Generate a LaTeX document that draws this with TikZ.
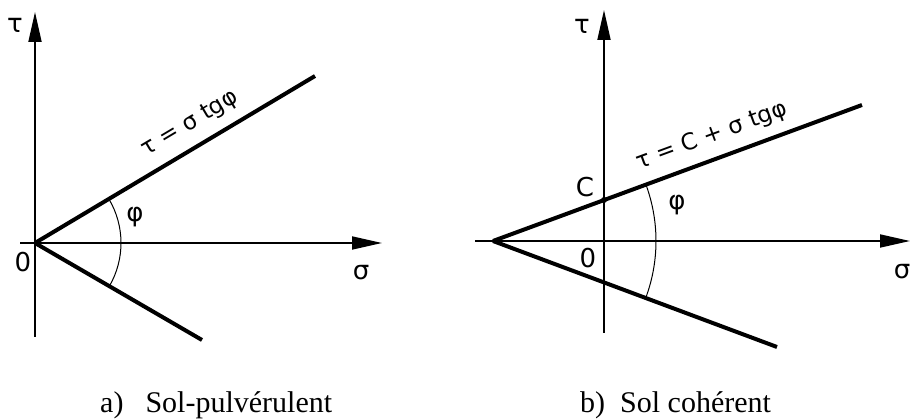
\documentclass[tikz,border=0pt]{standalone}
\usepackage{fontspec}
\setmainfont{Liberation Serif}
\newfontfamily\lblfont{DejaVu Sans}
\usetikzlibrary{arrows.meta}
\begin{document}
\begin{tikzpicture}[x=1pt,y=-1pt,
  axis/.style={line width=1.8pt,-{Triangle[length=30pt,width=13pt]}},
  envelope/.style={line width=4pt},
  arcline/.style={line width=1pt},
  lbl/.style={font=\lblfont\fontsize{26}{26}\selectfont,inner sep=0pt},
  eqlbl/.style={font=\lblfont\fontsize{23}{23}\selectfont,inner sep=0pt},
  captext/.style={font=\fontsize{30}{36}\selectfont,inner sep=0pt,anchor=base west}]
\useasboundingbox (0,0) rectangle (911,419);
% ---- panel a
\coordinate (O1) at (35,243);
\coordinate (T1) at (35,12);
\coordinate (B1) at (35,337);
\coordinate (L1) at (20,243);
\coordinate (S1) at (382,243);
\coordinate (U1) at (315,76);
\coordinate (D1) at (202,340);
\draw[axis] (B1) -- (T1);
\draw[axis] (L1) -- (S1);
\draw[envelope] (O1) -- (U1);
\draw[envelope] (O1) -- (D1);
\draw[arcline] ([shift={(-30.8:86)}]O1) arc[start angle=-30.8,end angle=30.2,radius=86];
\node[lbl] (tau1) at (15,25) {τ};
\node[lbl] (zero1) at (23,262) {0};
\node[lbl] (sig1) at (361,273) {σ};
\node[lbl] (phi1) at (135,217) {φ};
\node[eqlbl,rotate=30.8] (eq1) at (190,124) {τ = σ tgφ};
% ---- panel b
\coordinate (A2) at (493,241);
\coordinate (T2) at (604,10);
\coordinate (B2) at (604,333);
\coordinate (L2) at (475,241);
\coordinate (S2) at (910,241);
\coordinate (U2) at (862,105);
\coordinate (D2) at (777,347);
\coordinate (C2) at (604,200);
\draw[axis] (B2) -- (T2);
\draw[axis] (L2) -- (S2);
\draw[envelope] (A2) -- (U2);
\draw[envelope] (A2) -- (D2);
\fill (C2) circle[radius=3];
\draw[arcline] ([shift={(-20.2:163)}]A2) arc[start angle=-20.2,end angle=20.5,radius=163];
\node[lbl] (tau2) at (582,26) {τ};
\node[lbl] (c2) at (585,187) {C};
\node[lbl] (zero2) at (588,258) {0};
\node[lbl] (sig2) at (902,272) {σ};
\node[lbl] (phi2) at (677,205) {φ};
\node[eqlbl,rotate=20.2] (eq2) at (712,136) {τ = C + σ tgφ};
% ---- captions
\node[captext] (capa) at (100,413) {a)\hspace{22pt}Sol-pulvérulent};
\node[captext] (capb) at (580,413) {b)\hspace{15pt}Sol cohérent};
\end{tikzpicture}
\end{document}
